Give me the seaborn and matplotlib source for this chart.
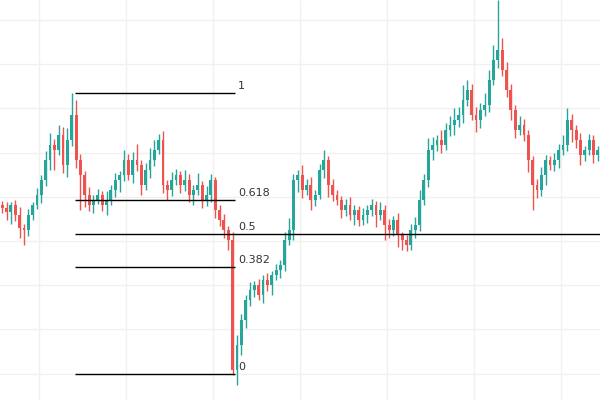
import numpy as np
import matplotlib
matplotlib.use("Agg")
import matplotlib.pyplot as plt
import seaborn as sns

# closes in chart units (higher = up), open = previous close
closes = [192, 188, 195, 185, 172, 170, 185, 195, 205, 220,
          240, 255, 250, 265, 235, 260, 285, 240, 225, 205,
          195, 200, 205, 195, 200, 210, 220, 225, 240, 225,
          240, 235, 215, 230, 240, 250, 260, 215, 210, 220,
          225, 215, 220, 205, 210, 215, 200, 205, 220, 190,
          180, 170, 160, 30, 55, 80, 100, 110, 115, 105,
          120, 115, 125, 130, 135, 160, 170, 220, 225, 210,
          215, 200, 205, 230, 240, 215, 205, 200, 190, 195,
          185, 190, 180, 185, 190, 195, 185, 190, 175, 170,
          180, 165, 160, 155, 170, 175, 200, 220, 250, 255,
          260, 255, 270, 275, 280, 285, 300, 310, 285, 280,
          290, 295, 320, 340, 350, 330, 310, 290, 270, 275,
          265, 240, 215, 210, 225, 240, 235, 240, 250, 255,
          280, 270, 260, 245, 250, 260, 245, 250]
first_open = 195
wick_up = [4, 6, 3, 5, 8, 4, 6, 3, 7, 5, 9, 12, 6, 10, 8, 12, 22, 15, 6, 4,
           8, 5, 6, 4, 9, 5, 7, 4, 10, 6, 8, 16, 5, 7, 12, 10, 6, 9, 5, 8,
           6, 4, 10, 6, 5, 12, 4, 9, 6, 3, 5, 6, 4, 8, 10, 6, 5, 8, 4, 6,
           5, 7, 4, 6, 5, 8, 12, 6, 5, 10, 6, 8, 5, 6, 10, 4, 6, 5, 4, 6,
           8, 5, 4, 7, 5, 6, 4, 8, 5, 6, 4, 7, 3, 5, 6, 8, 10, 6, 12, 8,
           5, 10, 7, 9, 12, 8, 15, 10, 6, 8, 7, 12, 10, 15, 50, 12, 8, 6, 5, 9,
           6, 5, 4, 6, 8, 5, 4, 7, 6, 10, 12, 6, 5, 7, 4, 6, 5, 4]
wick_dn = [5, 8, 12, 6, 10, 15, 6, 5, 4, 8, 6, 10, 20, 5, 8, 12, 6, 8, 35, 12,
           6, 8, 4, 6, 10, 5, 7, 12, 6, 5, 8, 6, 10, 5, 8, 6, 4, 8, 10, 6,
           5, 8, 6, 7, 10, 5, 8, 6, 7, 8, 6, 8, 10, 5, 15, 10, 8, 6, 7, 5,
           8, 6, 10, 5, 8, 6, 5, 10, 12, 8, 5, 10, 6, 4, 8, 12, 6, 5, 8, 6,
           5, 10, 6, 5, 8, 6, 12, 5, 15, 8, 6, 12, 10, 6, 5, 8, 6, 5, 7, 10,
           6, 8, 5, 6, 10, 7, 8, 6, 5, 12, 8, 6, 7, 5, 8, 6, 7, 10, 8, 5,
           6, 12, 25, 8, 6, 10, 5, 6, 8, 5, 6, 12, 8, 10, 6, 5, 8, 6]

fib_high = 307
fib_low = 26
fib_levels = [1, 0.618, 0.5, 0.382, 0]
fib_labels = ["1", "0.618", "0.5", "0.382", "0"]

opens = [first_open] + closes[:-1]
idx = np.arange(len(closes))
o = np.array(opens, float)
c = np.array(closes, float)
hi = np.maximum(o, c) + np.array(wick_up)
lo = np.minimum(o, c) - np.array(wick_dn)
up = c >= o
colors = np.where(up, "#26a69a", "#ef5350")

sns.set_style("white")
fig = plt.figure(figsize=(6, 4), dpi=100)
ax = fig.add_axes([0, 0, 1, 1])

ax.vlines(idx, lo, hi, colors=colors, linewidth=1, zorder=3)
body = np.maximum(np.abs(c - o), 1)
ax.bar(idx, body, bottom=np.minimum(o, c), width=0.65, color=colors,
       edgecolor="none", linewidth=0, zorder=3)

ax.set_xlim(-0.5, len(closes) - 0.5)
ax.set_ylim(0, 400)
ax.set_xticks(np.arange(8.5, 140, 20))
ax.set_yticks(400 - (20 + 44.2 * np.arange(9)))
ax.grid(True, color="#f0f0f0", linewidth=1, zorder=0)
ax.tick_params(left=False, bottom=False, labelleft=False, labelbottom=False)
sns.despine(ax=ax, left=True, bottom=True, top=True, right=True)

x0, x1 = 16.8, 53.5
for lev, lab in zip(fib_levels, fib_labels):
    y = fib_low + (fib_high - fib_low) * lev
    end = len(closes) if lab == "0.5" else x1
    ax.hlines(y, x0, end, color="black", linewidth=1, zorder=4)
    ax.text(x1 + 0.8, y + 2, lab, fontsize=8, color="#333333", va="bottom", zorder=5)

fig.savefig("out.png", dpi=100)
